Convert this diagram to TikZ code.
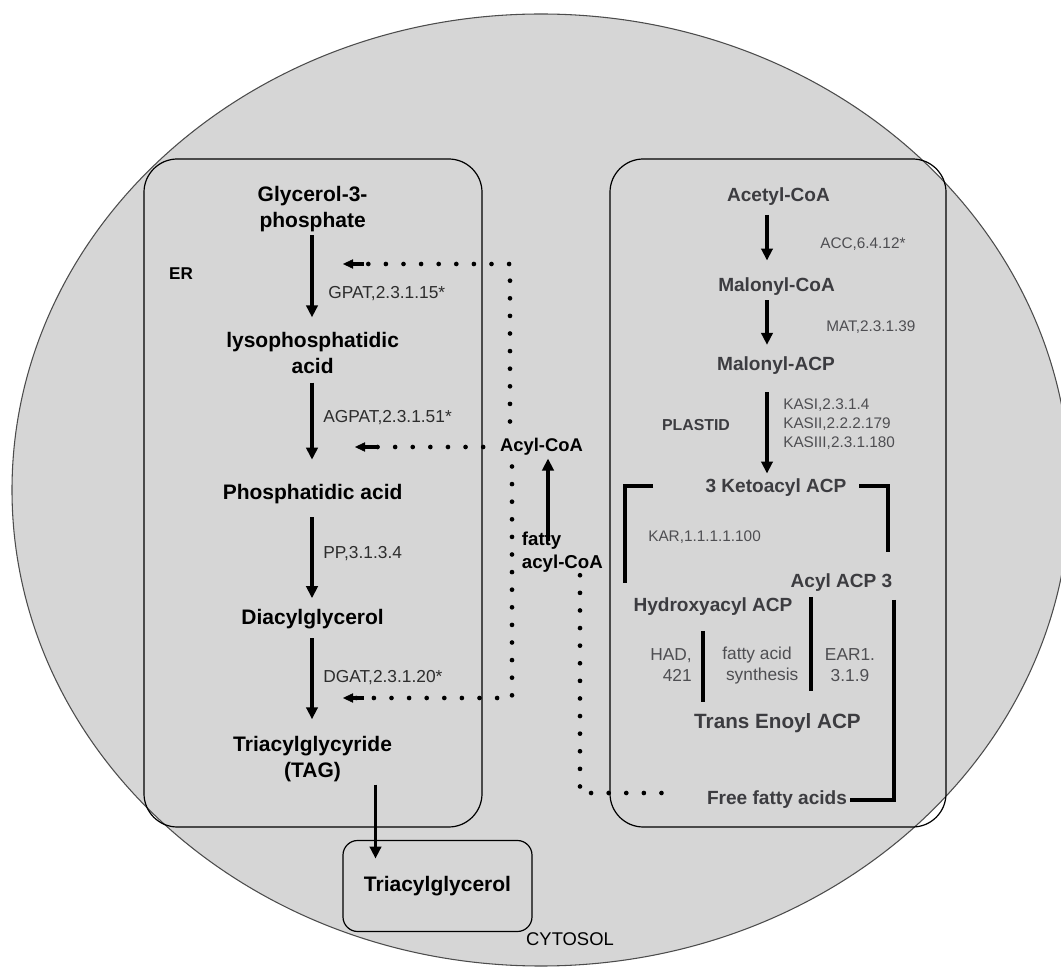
\documentclass[tikz,border=0pt]{standalone}
\usepackage{fontspec}
\setmainfont{Liberation Sans}
\usetikzlibrary{arrows.meta,calc}
\definecolor{bg}{RGB}{214,214,214}
\definecolor{rtext}{RGB}{60,60,64}
\definecolor{rlab}{RGB}{78,78,82}
\definecolor{llab}{RGB}{45,45,45}
\begin{document}
\begin{tikzpicture}[x=0.75pt,y=-0.75pt,
  lb/.style={font=\bfseries\fontsize{15.75}{19.5}\selectfont,align=center,inner sep=2pt},
  rb/.style={font=\bfseries\fontsize{14.3}{17}\selectfont,text=rtext,inner sep=2pt},
  le/.style={font=\fontsize{13}{15.5}\selectfont,text=llab,anchor=west,inner sep=0pt},
  re/.style={font=\fontsize{11.5}{14.25}\selectfont,text=rlab,anchor=west,inner sep=0pt,align=left},
  me/.style={font=\fontsize{13}{15.75}\selectfont,text=rlab,inner sep=0pt},
  arr/.style={line width=2.3pt,-{Triangle[length=9pt,width=8.5pt]}},
  dotline/.style={line width=3.5pt,line cap=round,dash pattern=on 0pt off 13.2pt},
  dotarr/.style={-{Rectangle[length=7.5pt,width=2.8pt,sep=0pt,line width=0.3pt]Triangle[length=7.5pt,width=7pt,line width=0.3pt]}},
  thk/.style={line width=2.4pt},
  box/.style={draw=black,line width=0.9pt,rounded corners=25pt}]

\useasboundingbox (0,0) rectangle (1061,969);
\fill[bg,draw=black!70,line width=0.8pt] (541,490) ellipse [x radius=529, y radius=476];

% compartments
\draw[box] (144,159) rectangle (482,827);
\draw[box] (610,159) rectangle (946,827);

% ER pathway
\node[lb] (g3p) at (312.6,209.5) {Glycerol-3-\\phosphate};
\node[lb] (lpa) at (312.6,353) {lysophosphatidic\\acid};
\node[lb] (pa) at (312.6,494.4) {Phosphatidic acid};
\node[lb] (dag) at (312.6,619) {Diacylglycerol};
\node[lb] (tag) at (312.6,759) {Triacylglycyride\\(TAG)};
\node[font=\bfseries\fontsize{12.8}{15}\selectfont,inner sep=1pt] (er) at (181,274) {ER};
\node[le] (gpat) at (328,293.6) {GPAT,2.3.1.15*};
\node[le] (agpat) at (323,418) {AGPAT,2.3.1.51*};
\node[le] (pp) at (323,554) {PP,3.1.3.4};
\node[le] (dgat) at (323,678) {DGAT,2.3.1.20*};

\node[box,lb,rounded corners=11pt,minimum width=141.75pt,minimum height=68.25pt] (cyt) at (437.5,886) {Triacylglycerol};
\node[font=\fontsize{13.8}{16}\selectfont,text=black,inner sep=1pt] (cytosol) at (570,939.5) {CYTOSOL};

\coordinate (lx) at (312,0);
\draw[arr,shorten >=9pt] (g3p.south -| lx) -- (lpa.north -| lx);
\draw[arr,shorten <=4.5pt,shorten >=16.5pt] (lpa.south -| lx) -- (pa.north -| lx);
\draw[arr,shorten <=7.5pt,shorten >=6pt] (pa.south -| lx) -- (dag.north -| lx);
\draw[arr,shorten <=5pt,shorten >=10.5pt] (dag.south -| lx) -- (tag.north -| lx);
\coordinate (tx) at (375.5,0);
\draw[arr,shorten >=-14pt] (tag.south -| tx) -- (cyt.north -| tx);

% acyl-CoA transport
\node[font=\bfseries\fontsize{13.8}{16}\selectfont,inner sep=2pt] (acyl) at (541.5,447) {Acyl-CoA};
\node[font=\bfseries\fontsize{14}{17}\selectfont,align=left,anchor=west,inner sep=2pt] (fatty) at (519,552.3) {fatty\\acyl-CoA};
\coordinate (ux) at (548,0);
\draw[arr,shorten <=-9pt] (fatty.north -| ux) -- (acyl.south -| ux);

\coordinate (ctop) at (510,264);
\coordinate (cbot) at (512,698);
\coordinate (tip1) at (343,264);
\coordinate (tip2) at (355,447);
\coordinate (tip3) at (343,698);
\draw[dotline,dotarr] ($(acyl.north -| ctop)+(0,-14)$) -- (ctop) -- (tip1);
\draw[dotline,dotarr] ($(acyl.west)+(-14,0)$) -- (tip2);
\draw[dotline,dotarr] ($(acyl.south -| cbot)+(0,8)$) -- (cbot) -- (tip3);

\coordinate (dcol) at (580,793);
\coordinate (dend) at (662,793);
\draw[dotline] (fatty.south -| dcol) -- (dcol) -- (dend);

% plastid pathway
\node[rb] (acetyl) at (778.5,197) {Acetyl-CoA};
\node[rb] (malc) at (776.5,287) {Malonyl-CoA};
\node[rb] (malacp) at (776,366) {Malonyl-ACP};
\node[rb] (keto) at (776,488) {3 Ketoacyl ACP};
\node[rb] (acyl3) at (841.5,583) {Acyl ACP 3};
\node[rb] (hydroxy) at (713,607) {Hydroxyacyl ACP};
\node[rb,font=\bfseries\fontsize{15.5}{18}\selectfont] (trans) at (777.5,723) {Trans Enoyl ACP};
\node[rb] (ffa) at (777,800) {Free fatty acids};
\node[rb,font=\bfseries\fontsize{11.9}{14}\selectfont] (plastid) at (696,425) {PLASTID};

\node[re] (acc) at (820,244) {ACC,6.4.12*};
\node[re] (mat) at (826,327) {MAT,2.3.1.39};
\node[re] (kas) at (783,424) {KASI,2.3.1.4\\KASII,2.2.2.179\\KASIII,2.3.1.180};
\node[re] (kar) at (648,537) {KAR,1.1.1.1.100};
\node[me,align=right,anchor=east] (had) at (692,665.5) {HAD,\\421};
\node[me,align=center] (fas) at (757,665.5) {fatty acid\\\hspace*{0.6em}synthesis};
\node[me,align=center] (ear) at (850,665.5) {EAR1.\\3.1.9};

\coordinate (rx) at (767,0);
\draw[arr,shorten <=4.5pt,shorten >=11pt] (acetyl.south -| rx) -- (malc.north -| rx);
\draw[arr,shorten <=1pt,shorten >=7pt] (malc.south -| rx) -- (malacp.north -| rx);
\draw[arr,shorten <=11pt,shorten >=2pt] (malacp.south -| rx) -- (keto.north -| rx);

% fatty acid synthesis cycle
\coordinate (lbA) at (653,486);
\coordinate (lbB) at (625,583);
\draw[thk] (lbA) -| (lbB);
\coordinate (rbA) at (859,486);
\coordinate (rbB) at (888,552);
\draw[thk] (rbA) -| (rbB);
\coordinate (v1a) at (811,597);
\coordinate (v1b) at (811,691);
\draw[thk] (v1a) -- (v1b);
\coordinate (v2a) at (703,631);
\coordinate (v2b) at (703,702);
\draw[thk] (v2a) -- (v2b);
\coordinate (fb) at (894,600);
\draw[thk] (fb) |- (ffa.east);
\end{tikzpicture}
\end{document}
